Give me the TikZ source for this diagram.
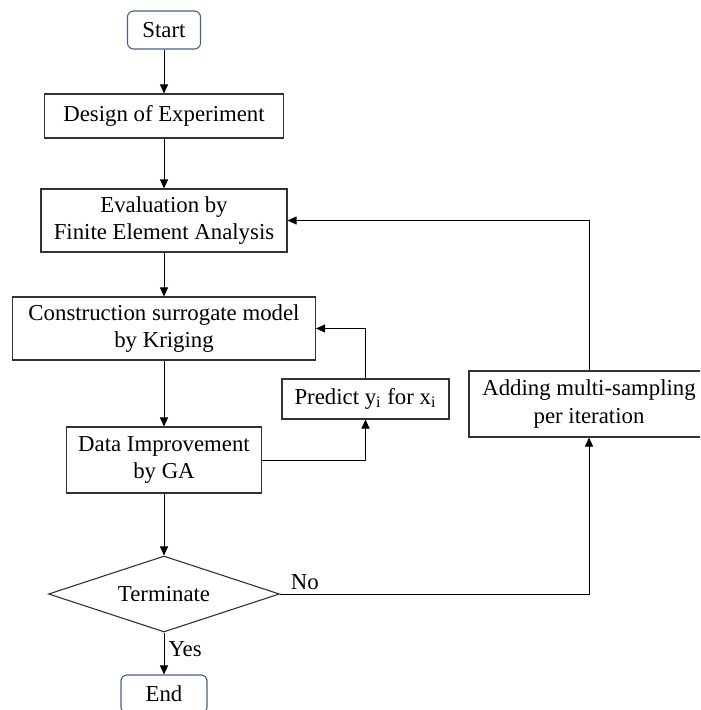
\documentclass[tikz,border=0pt]{standalone}
\usepackage{fontspec}
\setmainfont{Liberation Serif}
\usetikzlibrary{shapes.geometric}
\usetikzlibrary{arrows.meta}

\definecolor{termblue}{rgb}{0.29,0.38,0.52}
\definecolor{boxgray}{rgb}{0.20,0.20,0.20}

\tikzset{
  procbox/.style={rectangle,draw=boxgray,line width=0.55pt,inner sep=0pt,align=center,font=\fontsize{11.4}{13.6}\selectfont},
  termbox/.style={rectangle,rounded corners=3pt,draw=termblue,line width=0.55pt,inner sep=0pt,align=center,font=\fontsize{11.4}{13.6}\selectfont},
  decbox/.style={diamond,draw=boxgray,line width=0.55pt,inner sep=0pt,aspect=3,font=\fontsize{11.4}{13.6}\selectfont},
  flowarrow/.style={draw=black,line width=0.5pt,-{Triangle[length=4.5pt,width=4pt]}},
  flowlabel/.style={font=\fontsize{11.4}{13.6}\selectfont,inner sep=2pt}
}

\begin{document}
\begin{tikzpicture}[x=0.5pt,y=-0.5pt]
\clip (0,0) rectangle (700,710);
\fill[white] (0,0) rectangle (700,710);

% main column
\node[termbox,minimum width=36.5pt,minimum height=19pt] (start) at (164,30) {Start};
\node[procbox,minimum width=119.5pt,minimum height=22pt] (doe) at (164,116) {Design of Experiment};
\node[procbox,minimum width=123pt,minimum height=31.5pt] (eval) at (164,220.5) {Evaluation by\\Finite Element Analysis};
\node[procbox,minimum width=151.5pt,minimum height=31.5pt] (constr) at (164,328.5) {Construction surrogate model\\by Kriging};
\node[procbox,minimum width=97.5pt,minimum height=33pt] (data) at (164,460) {Data Improvement\\by GA};
\node[decbox,minimum width=115.5pt,minimum height=38pt] (term) at (164,594) {Terminate};
\node[termbox,minimum width=43pt,minimum height=19pt] (finish) at (164,694) {End};

% side boxes
\node[procbox,minimum width=83.5pt,minimum height=20pt] (predict) at (365.5,399) {Predict y\textsubscript{i} for x\textsubscript{i}};
\node[procbox,minimum width=120pt,minimum height=33pt] (adding) at (589,404) {Adding multi-sampling\\per iteration};

% connectors
\draw[flowarrow] (start) -- (doe);
\draw[flowarrow] (doe) -- (eval);
\draw[flowarrow] (eval) -- (constr);
\draw[flowarrow] (constr) -- (data);
\draw[flowarrow] (data) -- (term);
\draw[flowarrow] (term) -- node[flowlabel,right,pos=0.4] {Yes} (finish);
\draw[flowarrow] (data.east) -| (predict.south);
\draw[flowarrow] (predict.north) |- (constr.east);
\draw[flowarrow] (term.east) -| node[flowlabel,above,pos=0.04] {No} (adding.south);
\draw[flowarrow] (adding.north) |- (eval.east);

\end{tikzpicture}
\end{document}
